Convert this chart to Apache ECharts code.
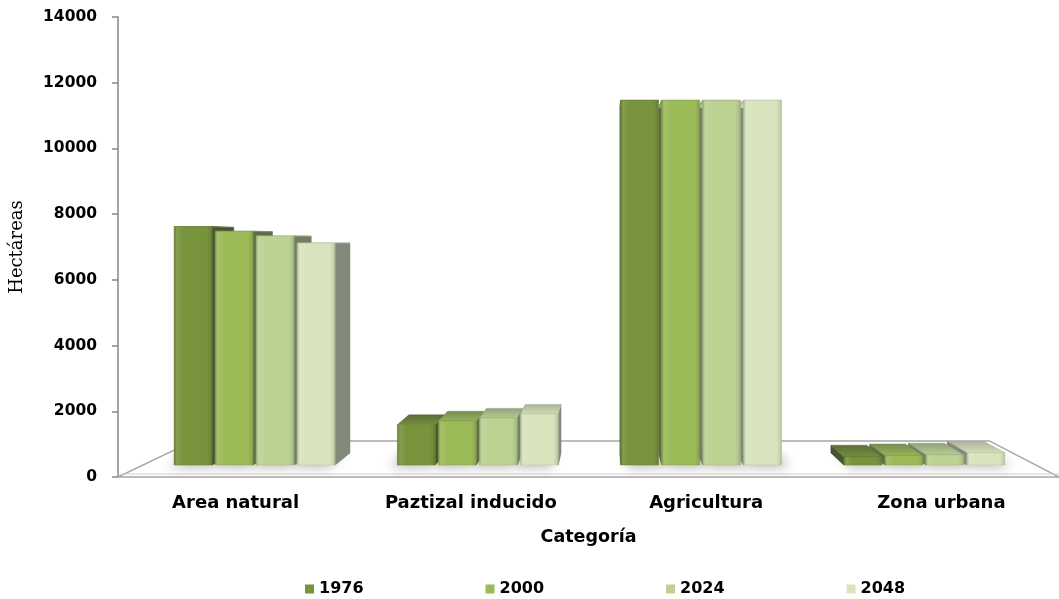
<!DOCTYPE html>
<html>
<head>
<meta charset="utf-8">
<script src="https://cdn.jsdelivr.net/npm/echarts@6/dist/echarts.min.js"></script>
<style>
  html, body { margin: 0; padding: 0; background: #ffffff; }
  #chart { width: 1059px; height: 599px; }
</style>
</head>
<body>
<div id="chart"></div>
<script>
// Land use by category (hectares) for each year
const categories = ['Area natural', 'Paztizal inducido', 'Agricultura', 'Zona urbana'];
const years = ['1976', '2000', '2024', '2048'];
const values1976 = [7650, 1290, 11700, 260];
const values2000 = [7500, 1410, 11700, 300];
const values2024 = [7350, 1510, 11700, 330];
const values2048 = [7120, 1640, 11700, 400];
const seriesValues = [values1976, values2000, values2024, values2048];

// Value axis range
const axisMin = 0;
const axisMax = 14000;
const axisStep = 2000;

const colors = ['#77933C', '#9BBB59', '#BBD293', '#D7E4BD'];

// Perspective settings: eye point as a fraction of the plot area,
// depth of the bar faces and of the floor back edge
const view = {
  eyeX: 0.52,
  eyeY: 0.491,
  barFront: 0.051,
  barBack: 0.103,
  floorBack: 0.154,
  barWidth: 40,
  barGap: 3.2
};

function rgb(hex) {
  const n = parseInt(hex.slice(1), 16);
  return [(n >> 16) & 255, (n >> 8) & 255, n & 255];
}
function shade(hex, f) {
  const c = rgb(hex).map(v => Math.max(0, Math.min(255, Math.round(v * f))));
  return 'rgb(' + c.join(',') + ')';
}
function tint(hex, t) {
  const c = rgb(hex).map(v => Math.round(v + (255 - v) * t));
  return 'rgb(' + c.join(',') + ')';
}
function dull(hex, f, g) {
  // darken and pull toward grey
  const c = rgb(hex);
  const avg = (c[0] + c[1] + c[2]) / 3;
  const out = c.map(v => Math.round((v * (1 - g) + avg * g) * f));
  return 'rgb(' + out.join(',') + ')';
}

function eyePoint(cs) {
  return [cs.x + cs.width * view.eyeX, cs.y + cs.height * view.eyeY];
}
function project(V, x, y, s) {
  return [V[0] + (x - V[0]) * (1 - s), V[1] + (y - V[1]) * (1 - s)];
}

function barRenderer(k) {
  const base = colors[k];
  return function (params, api) {
    const cs = params.coordSys;
    const V = eyePoint(cs);
    const cat = api.value(0);
    const val = api.value(1);
    const topPt = api.coord([cat, val]);
    const basePt = api.coord([cat, 0]);
    const step = view.barWidth + view.barGap;
    const cx = topPt[0] + (k - 1.5) * step;
    const xl = cx - view.barWidth / 2;
    const xr = cx + view.barWidth / 2;
    const f = view.barFront, b = view.barBack;
    const FTL = project(V, xl, topPt[1], f), FTR = project(V, xr, topPt[1], f);
    const FBL = project(V, xl, basePt[1], f), FBR = project(V, xr, basePt[1], f);
    const BTL = project(V, xl, topPt[1], b), BTR = project(V, xr, topPt[1], b);
    const BBL = project(V, xl, basePt[1], b), BBR = project(V, xr, basePt[1], b);

    const frontX = project(V, cx, 0, f)[0];
    const facesRight = frontX < V[0];
    const side = facesRight ? [FTR, BTR, BBR, FBR] : [FTL, BTL, BBL, FBL];
    const order = (4000 - Math.abs(frontX - V[0])) * 10;

    const frontFill = new echarts.graphic.LinearGradient(0, 0, 1, 0, [
      { offset: 0, color: shade(base, 0.8) },
      { offset: 0.07, color: tint(base, 0.1) },
      { offset: 0.25, color: base },
      { offset: 0.86, color: base },
      { offset: 0.95, color: shade(base, 0.92) },
      { offset: 1, color: shade(base, 0.78) }
    ]);
    const topFill = new echarts.graphic.LinearGradient(0, 0, 0, 1, [
      { offset: 0, color: dull(base, 0.8, 0.3) },
      { offset: 1, color: shade(base, 0.97) }
    ]);

    // soft contact shadow from the bar footprint, cast away from the eye point
    const footprint = [FBL, FBR, BBR, BBL];

    return {
      type: 'group',
      children: [
        {
          type: 'polygon',
          z2: 1,
          shape: { points: footprint },
          style: {
            fill: 'rgba(80,80,80,0.5)',
            shadowBlur: 12,
            shadowOffsetX: facesRight ? -7 : 7,
            shadowOffsetY: 2,
            shadowColor: 'rgba(0,0,0,0.6)'
          },
          silent: true
        },
        {
          type: 'polygon',
          z2: order,
          shape: { points: side },
          style: { fill: dull(base, 0.62, 0.35), stroke: dull(base, 0.58, 0.35), lineWidth: 0.5 }
        },
        {
          type: 'polygon',
          z2: order + 1,
          shape: { points: [FTL, FTR, BTR, BTL] },
          style: { fill: topFill, stroke: dull(base, 0.78, 0.3), lineWidth: 0.5 }
        },
        {
          type: 'polygon',
          z2: order + 2,
          shape: { points: [FTL, FTR, FBR, FBL] },
          style: { fill: frontFill, stroke: shade(base, 0.86), lineWidth: 0.5 }
        }
      ]
    };
  };
}

// Floor plane of the plot, drawn from the grid rectangle
function floorRenderer(params, api) {
  const cs = params.coordSys;
  const V = eyePoint(cs);
  const y0 = cs.y + cs.height;
  const x0 = cs.x, x1 = cs.x + cs.width;
  const s = view.floorBack;
  const FL = [x0, y0], FR = [x1, y0];
  const BL = project(V, x0, y0, s), BR = project(V, x1, y0, s);
  return {
    type: 'group',
    children: [
      {
        type: 'polygon',
        shape: { points: [FL, FR, BR, BL] },
        style: { fill: '#ffffff', stroke: '#a6a6a6', lineWidth: 1.5 }
      },
      {
        type: 'line',
        shape: { x1: x0, y1: y0 - 3, x2: x1, y2: y0 - 3 },
        style: { stroke: '#d0d0d0', lineWidth: 1 }
      }
    ]
  };
}

const series = [
  {
    type: 'custom',
    name: 'floor',
    z: 1,
    silent: true,
    clip: false,
    renderItem: floorRenderer,
    data: [[0, 0]]
  }
];
years.forEach((yr, k) => {
  series.push({
    type: 'custom',
    name: yr,
    z: 2,
    clip: false,
    itemStyle: { color: colors[k] },
    renderItem: barRenderer(k),
    encode: { x: 0, y: 1 },
    data: seriesValues[k].map((v, i) => [i, v])
  });
});

const chart = echarts.init(document.getElementById('chart'), null, { renderer: 'canvas' });
chart.setOption({
  animation: false,
  backgroundColor: '#ffffff',
  grid: { left: 118, top: 17, width: 950, height: 460 },
  legend: {
    data: years,
    icon: 'rect',
    itemWidth: 9,
    itemHeight: 9,
    itemGap: 122,
    left: 300,
    top: 576,
    textStyle: { fontFamily: 'DejaVu Sans', fontWeight: 'bold', fontSize: 16, color: '#000' }
  },
  xAxis: {
    type: 'category',
    data: categories,
    axisLine: { show: false },
    axisTick: { show: false },
    axisLabel: {
      margin: 17,
      color: '#000',
      fontFamily: 'DejaVu Sans',
      fontWeight: 'bold',
      fontSize: 18
    },
    name: 'Categoría',
    nameLocation: 'middle',
    nameGap: 51,
    nameTextStyle: { fontFamily: 'DejaVu Sans', fontWeight: 'bold', fontSize: 17.5, color: '#000' }
  },
  yAxis: {
    type: 'value',
    min: axisMin,
    max: axisMax,
    interval: axisStep,
    splitLine: { show: false },
    axisLine: { show: true, lineStyle: { color: '#868686', width: 1.5 } },
    axisTick: { show: true, length: 6, lineStyle: { color: '#868686', width: 1.5 } },
    axisLabel: {
      margin: 21,
      color: '#000',
      fontFamily: 'DejaVu Sans',
      fontWeight: 'bold',
      fontSize: 15.5,
      formatter: v => String(v)
    },
    name: 'Hectáreas',
    nameLocation: 'middle',
    nameGap: 92,
    nameTextStyle: { fontFamily: 'DejaVu Serif', fontSize: 18, color: '#000' }
  },
  series: series
});
</script>
</body>
</html>
